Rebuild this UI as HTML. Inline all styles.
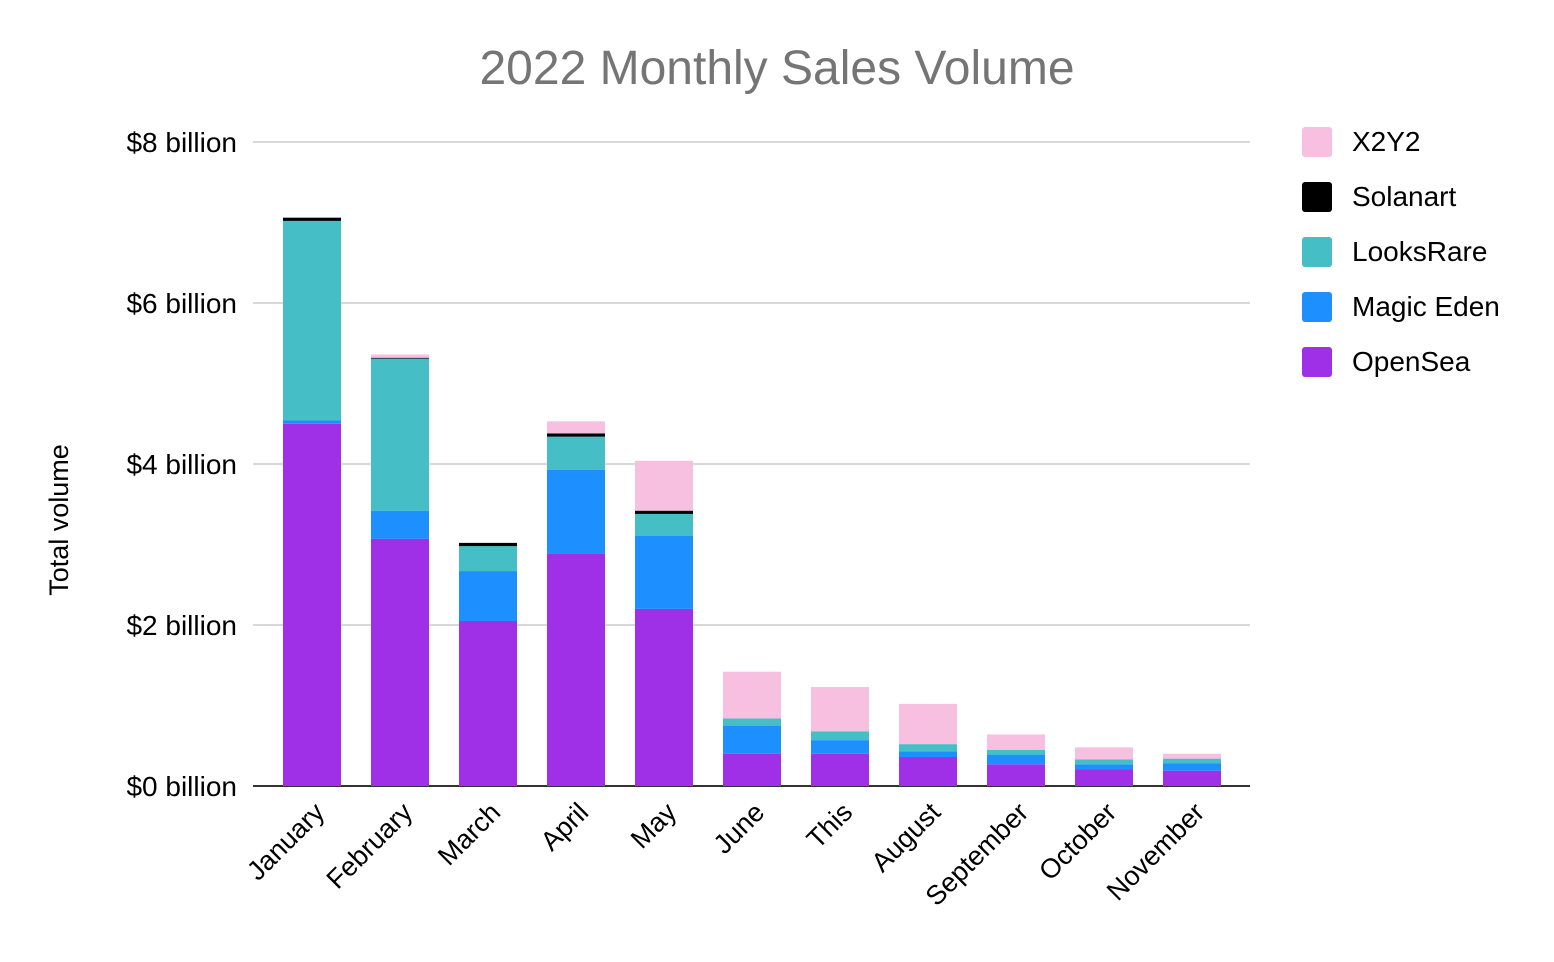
<!DOCTYPE html>
<html><head><meta charset="utf-8"><style>
body{margin:0;background:#fff;}
svg{display:block;font-family:"Liberation Sans",Arial,sans-serif;}
</style></head><body>
<svg id="chart" width="1554" height="962" viewBox="0 0 1554 962">
<text x="777" y="84" text-anchor="middle" font-size="48" fill="#757575">2022 Monthly Sales Volume</text>
<text transform="translate(68,520) rotate(-90)" text-anchor="middle" font-size="27" fill="#000">Total volume</text>
<g id="grid"></g><g id="bars"></g><g id="xlabels"></g><g id="legend"></g>
</svg>
<script>
const categories=["January","February","March","April","May","June","This","August","September","October","November"];
const openSea=[4.50,3.07,2.05,2.89,2.20,0.40,0.40,0.36,0.27,0.21,0.19];
const magicEden=[0.04,0.35,0.62,1.04,0.91,0.35,0.17,0.07,0.12,0.06,0.09];
const looksRare=[2.48,1.89,0.31,0.41,0.27,0.09,0.11,0.09,0.06,0.06,0.06];
const solanart=[0.04,0.01,0.04,0.04,0.04,0,0,0,0,0,0];
const x2y2=[0,0.04,0,0.15,0.62,0.58,0.55,0.50,0.19,0.15,0.06];
const yTicks=[0,2,4,6,8];
const yTickLabels=["$0 billion","$2 billion","$4 billion","$6 billion","$8 billion"];
const seriesNames=["X2Y2","Solanart","LooksRare","Magic Eden","OpenSea"];
const NS="http://www.w3.org/2000/svg";
const y0=786,pxPer=80.5,x0=312,band=88,bw=58;
const yScale=v=>y0-v*pxPer;
const xScale=i=>x0+i*band;
function mk(tag,attrs,parent){const e=document.createElementNS(NS,tag);for(const k in attrs)e.setAttribute(k,attrs[k]);parent.appendChild(e);return e;}
const grid=document.getElementById('grid');
yTicks.forEach((t,i)=>{
  const l=mk('line',{x1:253,x2:1250,y1:yScale(t),y2:yScale(t),stroke:t===0?'#333':'#ccc','stroke-width':t===0?2:1.5},grid);
  
  
  const tx=mk('text',{x:237,y:yScale(t)+10,'text-anchor':'end','font-size':28,fill:'#000'},grid);
  tx.textContent=yTickLabels[i];
  
  
});
const series=[["opensea",openSea,"#a02fe8"],["magic-eden",magicEden,"#1e8fff"],["looksrare",looksRare,"#45bec6"],["solanart",solanart,"#000"],["x2y2",x2y2,"#f7bfe0"]];
const bars=document.getElementById('bars');
categories.forEach((c,i)=>{
  let acc=0;
  series.forEach(s=>{
    const v=s[1][i];
    if(v>0){
      const r=mk('rect',{x:xScale(i)-bw/2,y:yScale(acc+v),width:bw,height:v*pxPer,fill:s[2]},bars);
      
      
    }
    acc+=v;
  });
  const t=mk('text',{transform:`translate(${xScale(i)+14},${y0+28}) rotate(-45)`,'text-anchor':'end','font-size':27,fill:'#000'},document.getElementById('xlabels'));
  t.textContent=c;
  
  
});
const legColors={"X2Y2":"#f7bfe0","Solanart":"#000","LooksRare":"#45bec6","Magic Eden":"#1e8fff","OpenSea":"#a02fe8"};
const leg=document.getElementById('legend');
seriesNames.forEach((n,i)=>{
  const g=mk('g',{},leg);
  
  
  mk('rect',{x:1302,y:127+i*55,width:30,height:30,rx:3,fill:legColors[n]},g);
  const t=mk('text',{x:1352,y:151+i*55,'font-size':28,fill:'#000'},g);
  t.textContent=n;
});
</script>
</body></html>
